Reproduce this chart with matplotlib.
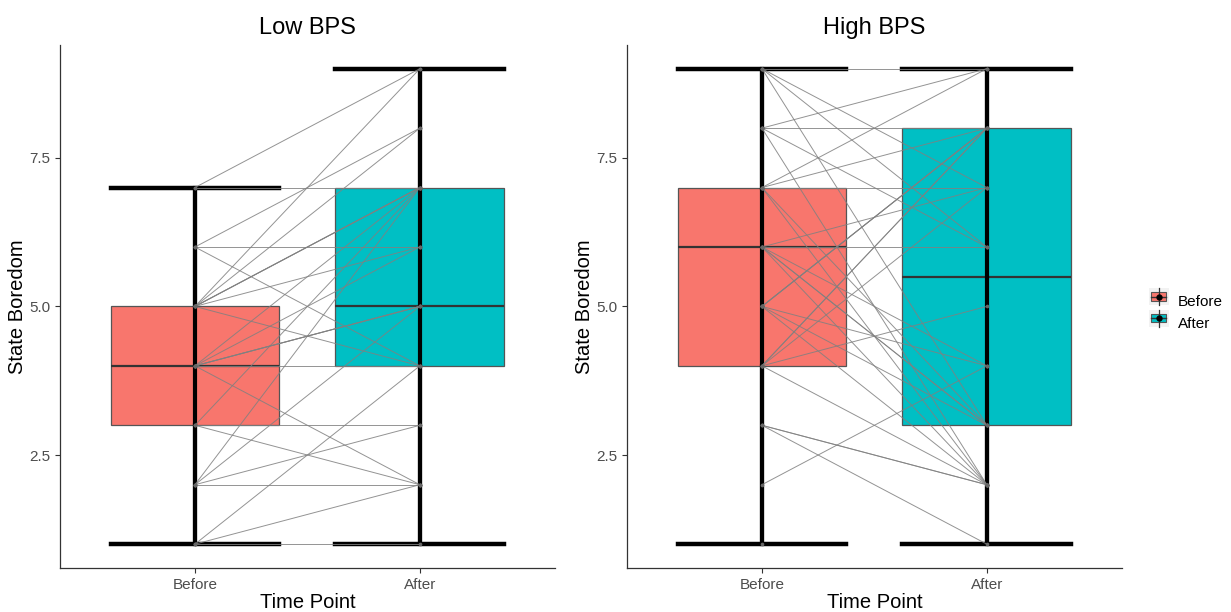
import numpy as np
import matplotlib
matplotlib.use("Agg")
import matplotlib.pyplot as plt
from matplotlib.patches import Rectangle
from matplotlib.lines import Line2D

plt.rcParams['font.family'] = ['Liberation Sans', 'DejaVu Sans']

# paired scores, one entry per participant (same index = same person)
time_points = ["Before", "After"]
panel_titles = ["Low BPS", "High BPS"]

low_before = [1, 1, 1,
              2, 2, 2, 2,
              3, 3, 3,
              4, 4, 4, 4, 4, 4, 4,
              5, 5, 5, 5, 5, 5, 5,
              6, 6, 6,
              7, 7]
low_after = [1, 2, 4,
             2, 3, 5, 7,
             3, 2, 7,
             5, 5, 5, 4, 2, 6, 7,
             9, 8, 7, 7, 7, 6, 4,
             8, 6, 4,
             9, 7]

high_before = [9, 9, 9, 9,
               8, 8, 8, 8,
               7, 7, 7, 7, 7,
               6, 6, 6, 6, 6, 6,
               5, 5, 5, 5, 5, 5,
               4, 4, 4, 4, 4,
               3, 3, 3,
               2,
               1]
high_after = [9, 7, 6, 3,
              9, 8, 6, 2,
              9, 8, 7, 3, 2,
              6, 4, 3, 3, 2, 7,
              8, 8, 8, 4, 3, 2,
              8, 8, 7, 5, 2,
              2, 2, 1,
              4,
              np.nan]

fill_colors = ["#F8766D", "#00BFC4"]


class BoxKey:
    def __init__(self, color):
        self.color = color


class BoxKeyHandler:
    # draws a little boxplot key like ggplot does
    def legend_artist(self, legend, orig_handle, fontsize, handlebox):
        x0, y0 = handlebox.xdescent, handlebox.ydescent
        w, h = handlebox.width, handlebox.height
        tr = handlebox.get_transform()
        bg = Rectangle((x0 - 1, y0 - 1), w + 2, h + 2, facecolor="#F2F2F2", edgecolor="none", transform=tr)
        box = Rectangle((x0 + 1, y0 + h * 0.22), w - 2, h * 0.56, facecolor=orig_handle.color,
                        edgecolor="#555555", linewidth=0.8, transform=tr)
        vline = Line2D([x0 + w / 2] * 2, [y0 - 1, y0 + h + 1], color="#333333", linewidth=0.9, transform=tr)
        med = Line2D([x0 + 1, x0 + w - 1], [y0 + h / 2] * 2, color="#333333", linewidth=1.0, transform=tr)
        dot = Line2D([x0 + w / 2], [y0 + h / 2], marker="o", markersize=3.5, color="black", transform=tr)
        for art in [bg, box, vline, med, dot]:
            handlebox.add_artist(art)
        return box


fig = plt.figure(figsize=(12.31, 6.12), dpi=100)
axes = [fig.add_axes([0.0487, 0.072, 0.402, 0.8546]),
        fig.add_axes([0.5093, 0.072, 0.402, 0.8546])]

for ax, title, before, after in zip(axes, panel_titles,
                                    [low_before, high_before],
                                    [low_after, high_after]):
    b = np.array(before, dtype=float)
    a = np.array(after, dtype=float)
    groups = [b[~np.isnan(b)], a[~np.isnan(a)]]

    bp = ax.boxplot(groups, positions=[1, 2], widths=0.75, whis=(0, 100),
                    patch_artist=True, showfliers=False, capwidths=0.75,
                    medianprops=dict(color="#333333", linewidth=1.6),
                    whiskerprops=dict(color="black", linewidth=3),
                    capprops=dict(color="black", linewidth=3.2),
                    boxprops=dict(edgecolor="#555555", linewidth=0.9))
    for patch, col in zip(bp["boxes"], fill_colors):
        patch.set_facecolor(col)
        patch.set_zorder(1)
    for med in bp["medians"]:
        med.set_zorder(2)

    # black line from min to max through the box
    for pos, g in zip([1, 2], groups):
        ax.vlines(pos, g.min(), g.max(), color="black", linewidth=3, zorder=3)

    # paired lines
    for yb, ya in zip(b, a):
        if np.isnan(yb) or np.isnan(ya):
            continue
        ax.plot([1, 2], [yb, ya], color="#808080", linewidth=0.7, alpha=0.85, zorder=4)
    ax.scatter(np.ones(len(b)), b, s=7, color="#666666", zorder=5, linewidths=0)
    ax.scatter(np.full(len(a), 2), a, s=7, color="#666666", zorder=5, linewidths=0)

    ax.set_xlim(0.4, 2.6)
    ax.set_ylim(0.6, 9.4)
    ax.set_xticks([1, 2])
    ax.set_xticklabels(time_points)
    ax.set_yticks([2.5, 5.0, 7.5])
    ax.set_yticklabels(["2.5", "5.0", "7.5"])
    ax.tick_params(colors="#333333", labelcolor="#4D4D4D", labelsize=11, length=3.5, width=0.8)
    for side in ["top", "right"]:
        ax.spines[side].set_visible(False)
    for side in ["left", "bottom"]:
        ax.spines[side].set_color("#333333")
        ax.spines[side].set_linewidth(0.9)
    ax.set_title(title, fontsize=17, pad=8)
    ax.set_xlabel("Time Point", fontsize=14.5, labelpad=1)
    ax.set_ylabel("State Boredom", fontsize=14.5)
    ax.yaxis.set_label_coords(-0.066, 0.5)

keys = [BoxKey(c) for c in fill_colors]
fig.legend(keys, time_points, loc="center left", bbox_to_anchor=(0.923, 0.49),
           frameon=False, fontsize=11, handler_map={BoxKey: BoxKeyHandler()},
           handlelength=1.15, handleheight=1.1, labelspacing=0.4, handletextpad=0.7)

fig.savefig("out.png", dpi=100)
